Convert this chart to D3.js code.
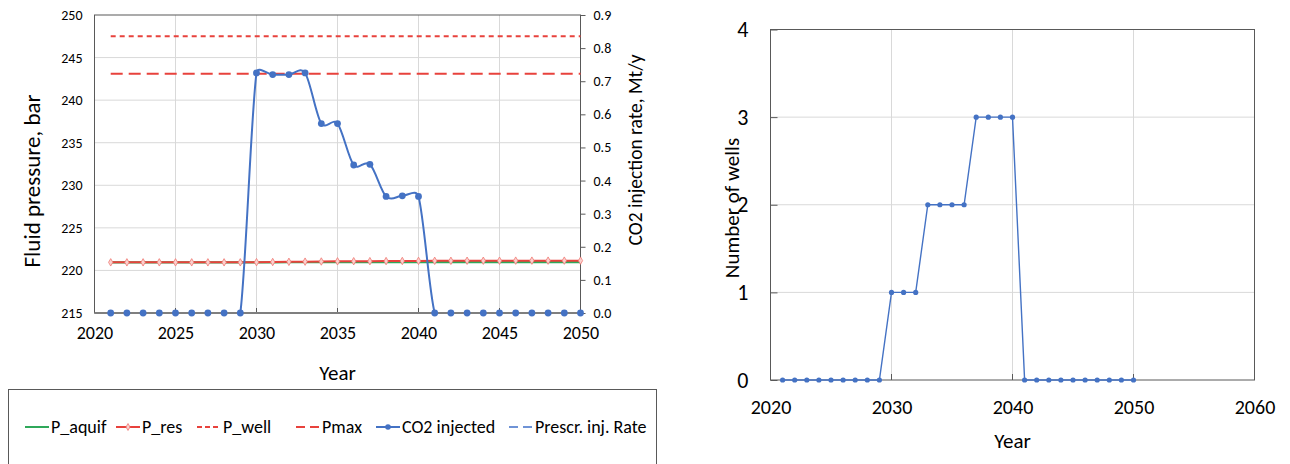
<!DOCTYPE html>
<html>
<head>
<meta charset="utf-8">
<script src="https://cdn.jsdelivr.net/npm/d3@7"></script>
<style>
  body { margin: 0; background: #fff; }
  svg text { font-family: Carlito, Calibri, Lato, "Open Sans", sans-serif; fill: #000; }
</style>
</head>
<body>
<svg id="chart"></svg>
<script>
// ---- data ----
const years = [2021, 2022, 2023, 2024, 2025, 2026, 2027, 2028, 2029, 2030,
               2031, 2032, 2033, 2034, 2035, 2036, 2037, 2038, 2039, 2040,
               2041, 2042, 2043, 2044, 2045, 2046, 2047, 2048, 2049, 2050];
const pAquif = [220.95, 220.95, 220.95, 220.95, 220.95, 220.95, 220.95, 220.95, 220.95, 220.95,
                220.95, 220.96, 220.96, 220.96, 220.96, 220.97, 220.97, 220.97, 220.97, 220.98,
                220.98, 220.98, 220.98, 220.98, 220.98, 220.98, 220.98, 220.98, 220.98, 220.98];
const pRes = [220.95, 220.95, 220.95, 220.95, 220.95, 220.95, 220.95, 220.95, 220.95, 220.97,
              220.99, 221.01, 221.03, 221.05, 221.07, 221.08, 221.09, 221.10, 221.11, 221.12,
              221.13, 221.13, 221.14, 221.14, 221.14, 221.15, 221.15, 221.15, 221.15, 221.15];
const co2Injected = [0, 0, 0, 0, 0, 0, 0, 0, 0, 0.725,
                     0.72, 0.72, 0.725, 0.572, 0.572, 0.447, 0.449, 0.352, 0.354, 0.352,
                     0, 0, 0, 0, 0, 0, 0, 0, 0, 0];
const pWellLevel = 247.5;
const pMaxLevel = 243.1;
const wells = [0, 0, 0, 0, 0, 0, 0, 0, 0, 1,
               1, 1, 2, 2, 2, 2, 3, 3, 3, 3,
               0, 0, 0, 0, 0, 0, 0, 0, 0, 0];

const pressureTicks = [215, 220, 225, 230, 235, 240, 245, 250];
const rateTicks = [0, 0.1, 0.2, 0.3, 0.4, 0.5, 0.6, 0.7, 0.8, 0.9];
const leftYearTicks = [2020, 2025, 2030, 2035, 2040, 2045, 2050];
const rightYearTicks = [2020, 2030, 2040, 2050, 2060];
const wellTicks = [0, 1, 2, 3, 4];
const legendNames = ["P_aquif", "P_res", "P_well", "Pmax", "CO2 injected", "Prescr. inj. Rate"];

const blue = "#4472c4", red = "#e8423c", green = "#2fa85a", grid = "#d9d9d9", frame = "#595959";

// spreadsheet-style smoothed line: bezier handles of 1/6 of the neighbour chord,
// but never longer than half of the segment itself
function smoothPath(pts) {
    const dist = (a, b) => Math.hypot(b[0] - a[0], b[1] - a[1]);
    let d = `M${pts[0][0]},${pts[0][1]}`;
    for (let i = 0; i < pts.length - 1; i++) {
        const p0 = pts[Math.max(i - 1, 0)], p1 = pts[i], p2 = pts[i + 1], p3 = pts[Math.min(i + 2, pts.length - 1)];
        const d12 = dist(p1, p2), d02 = dist(p0, p2), d13 = dist(p1, p3);
        const f1 = d02 / 6 < d12 / 2 ? 1 / 6 : d12 / (2 * d02);
        const f2 = d13 / 6 < d12 / 2 ? 1 / 6 : d12 / (2 * d13);
        const c1 = [p1[0] + (p2[0] - p0[0]) * f1, p1[1] + (p2[1] - p0[1]) * f1];
        const c2 = [p2[0] - (p3[0] - p1[0]) * f2, p2[1] - (p3[1] - p1[1]) * f2];
        d += `C${c1[0]},${c1[1]} ${c2[0]},${c2[1]} ${p2[0]},${p2[1]}`;
    }
    return d;
}

const svg = d3.select("#chart").attr("width", 1290).attr("height", 464);
svg.append("rect").attr("width", 1290).attr("height", 464).attr("fill", "#fff");

// ================= left chart =================
const x = d3.scaleLinear().domain([2020, 2050]).range([94.5, 580.5]);
const yP = d3.scaleLinear().domain([215, 250]).range([313, 15]);
const yR = d3.scaleLinear().domain([0, 0.9]).range([313, 15]);

const left = svg.append("g");

left.append("g").selectAll("line")
    .data(leftYearTicks.slice(1, -1))
    .enter().append("line")
    .attr("x1", d => x(d)).attr("x2", d => x(d))
    .attr("y1", yP.range()[1]).attr("y2", yP.range()[0])
    .attr("stroke", grid);
left.append("g").selectAll("line")
    .data(pressureTicks.slice(1, -1))
    .enter().append("line")
    .attr("x1", x.range()[0]).attr("x2", x.range()[1])
    .attr("y1", d => yP(d)).attr("y2", d => yP(d))
    .attr("stroke", grid);

// axes
const axL = left.append("g").attr("transform", `translate(${x.range()[0]},0)`)
    .call(d3.axisLeft(yP).tickValues(pressureTicks).tickSize(0).tickPadding(12));
const axR = left.append("g").attr("transform", `translate(${x.range()[1]},0)`)
    .call(d3.axisRight(yR).tickValues(rateTicks).tickSize(5).tickPadding(8).tickFormat(d3.format(".1f")));
const axB = left.append("g").attr("transform", `translate(0,${yP.range()[0]})`)
    .call(d3.axisBottom(x).tickValues(leftYearTicks).tickSize(0).tickPadding(13).tickFormat(d3.format("d")));
[axL, axR, axB].forEach(a => a.select(".domain").remove());
axL.selectAll("text").style("font-size", "14px").attr("fill", "#222");
axR.selectAll("text").style("font-size", "14px").attr("fill", "#222");
axR.selectAll("line").attr("stroke", frame);
axB.selectAll("text").style("font-size", "18px");

left.append("rect")
    .attr("x", x.range()[0]).attr("y", yP.range()[1])
    .attr("width", x.range()[1] - x.range()[0]).attr("height", yP.range()[0] - yP.range()[1])
    .attr("fill", "none").attr("stroke", frame);

// small major marks on the bottom axis
left.append("g").selectAll("line")
    .data(leftYearTicks.slice(1, -1))
    .enter().append("line")
    .attr("x1", d => x(d)).attr("x2", d => x(d))
    .attr("y1", yP.range()[0]).attr("y2", yP.range()[0] - 5)
    .attr("stroke", frame);

// clip keeps the smoothed line from dipping under the zero axis
svg.append("clipPath").attr("id", "clipL").append("rect")
    .attr("x", x.range()[0]).attr("y", yP.range()[1] - 2)
    .attr("width", x.range()[1] - x.range()[0] + 4).attr("height", yP.range()[0] - yP.range()[1] + 2.5);

const plotL = left.append("g").attr("clip-path", "url(#clipL)");

// P_well and Pmax levels
plotL.append("line")
    .attr("x1", x(years[0])).attr("x2", x(years[years.length - 1]))
    .attr("y1", yP(pWellLevel)).attr("y2", yP(pWellLevel))
    .attr("stroke", red).attr("stroke-width", 2).attr("stroke-dasharray", "5,4");
plotL.append("line")
    .attr("x1", x(years[0])).attr("x2", x(years[years.length - 1]))
    .attr("y1", yP(pMaxLevel)).attr("y2", yP(pMaxLevel))
    .attr("stroke", red).attr("stroke-width", 2).attr("stroke-dasharray", "12,6");

const lineP = d3.line().x((d, i) => x(years[i])).y(d => yP(d));
plotL.append("path").datum(pAquif)
    .attr("d", lineP).attr("fill", "none").attr("stroke", green).attr("stroke-width", 2.2);
plotL.append("path").datum(pRes)
    .attr("d", lineP).attr("fill", "none").attr("stroke", red).attr("stroke-width", 2);
plotL.append("g").selectAll("path")
    .data(pRes)
    .enter().append("path")
    .attr("d", d3.symbol(d3.symbolDiamond, 16))
    .attr("transform", (d, i) => `translate(${x(years[i])},${yP(d)})`)
    .attr("fill", "#fbd0ce").attr("stroke", "#f07a74").attr("stroke-width", 0.8);

// bottom axis line drawn over the level lines
left.append("line")
    .attr("x1", x.range()[0]).attr("x2", x.range()[1])
    .attr("y1", yP.range()[0]).attr("y2", yP.range()[0])
    .attr("stroke", "#7f7f7f").attr("stroke-width", 2);

// CO2 injected (smoothed line on the right axis)
const co2Pts = co2Injected.map((d, i) => [x(years[i]), yR(d)]);
plotL.append("path")
    .attr("d", smoothPath(co2Pts)).attr("fill", "none").attr("stroke", blue).attr("stroke-width", 2);
left.append("g").selectAll("circle")
    .data(co2Injected)
    .enter().append("circle")
    .attr("cx", (d, i) => x(years[i])).attr("cy", d => yR(d))
    .attr("r", 3.4).attr("fill", blue);

// titles
left.append("text")
    .attr("transform", `translate(40,181) rotate(-90)`)
    .attr("text-anchor", "middle").style("font-size", "23px")
    .text("Fluid pressure, bar");
left.append("text")
    .attr("transform", `translate(642,150) rotate(-90)`)
    .attr("text-anchor", "middle").style("font-size", "19.5px")
    .text("CO2 injection rate, Mt/y");
left.append("text")
    .attr("x", (x.range()[0] + x.range()[1]) / 2).attr("y", 380)
    .attr("text-anchor", "middle").style("font-size", "21px")
    .text("Year");

// legend
const legend = svg.append("g");
legend.append("rect")
    .attr("x", 8.5).attr("y", 389.5).attr("width", 648).attr("height", 100)
    .attr("fill", "#fff").attr("stroke", frame);
const legendX = [25, 116, 197, 296, 376, 509];
const legendStyle = [
    {color: green, dash: null, marker: null},
    {color: red, dash: null, marker: "diamond"},
    {color: red, dash: "5,3", marker: null},
    {color: red, dash: "9,5", marker: null},
    {color: blue, dash: null, marker: "circle"},
    {color: "#6f93d6", dash: "9,5", marker: null}
];
const ly = 427;
const item = legend.selectAll("g.item")
    .data(legendNames)
    .enter().append("g").attr("class", "item")
    .attr("transform", (d, i) => `translate(${legendX[i]},${ly})`);
item.append("line")
    .attr("x1", 0).attr("x2", 24).attr("y1", 0).attr("y2", 0)
    .attr("stroke", (d, i) => legendStyle[i].color).attr("stroke-width", 2)
    .attr("stroke-dasharray", (d, i) => legendStyle[i].dash);
item.filter((d, i) => legendStyle[i].marker === "diamond").append("path")
    .attr("d", d3.symbol(d3.symbolDiamond, 14)).attr("transform", "translate(12,0)")
    .attr("fill", "#fbd0ce").attr("stroke", "#f07a74").attr("stroke-width", 0.8);
item.filter((d, i) => legendStyle[i].marker === "circle").append("circle")
    .attr("cx", 12).attr("r", 2.8).attr("fill", blue);
item.append("text")
    .attr("x", 26).attr("dy", "0.35em").style("font-size", "18px")
    .text(d => d);

// ================= right chart =================
const x2 = d3.scaleLinear().domain([2020, 2060]).range([770.5, 1254.5]);
const y2 = d3.scaleLinear().domain([0, 4]).range([380, 29.5]);
const right = svg.append("g");

right.append("g").selectAll("line")
    .data(rightYearTicks.slice(1, -1))
    .enter().append("line")
    .attr("x1", d => x2(d)).attr("x2", d => x2(d))
    .attr("y1", y2.range()[1]).attr("y2", y2.range()[0])
    .attr("stroke", grid);
right.append("g").selectAll("line")
    .data(wellTicks.slice(1, -1))
    .enter().append("line")
    .attr("x1", x2.range()[0]).attr("x2", x2.range()[1])
    .attr("y1", d => y2(d)).attr("y2", d => y2(d))
    .attr("stroke", grid);

const ax2L = right.append("g").attr("transform", `translate(${x2.range()[0]},0)`)
    .call(d3.axisLeft(y2).tickValues(wellTicks).tickSize(-7).tickPadding(22).tickFormat(d3.format("d")));
const ax2B = right.append("g").attr("transform", `translate(0,${y2.range()[0]})`)
    .call(d3.axisBottom(x2).tickValues(rightYearTicks).tickSize(0).tickPadding(20).tickFormat(d3.format("d")));
[ax2L, ax2B].forEach(a => a.select(".domain").remove());
ax2L.selectAll("line").attr("stroke", frame);
ax2L.selectAll("text").style("font-size", "22px");
ax2B.selectAll("text").style("font-size", "20px");

right.append("rect")
    .attr("x", x2.range()[0]).attr("y", y2.range()[1])
    .attr("width", x2.range()[1] - x2.range()[0]).attr("height", y2.range()[0] - y2.range()[1])
    .attr("fill", "none").attr("stroke", frame);
right.append("g").selectAll("line")
    .data(rightYearTicks.slice(1, -1))
    .enter().append("line")
    .attr("x1", d => x2(d)).attr("x2", d => x2(d))
    .attr("y1", y2.range()[0]).attr("y2", y2.range()[0] - 6)
    .attr("stroke", frame);

const lineW = d3.line().x((d, i) => x2(years[i])).y(d => y2(d));
right.append("path").datum(wells)
    .attr("d", lineW).attr("fill", "none").attr("stroke", blue).attr("stroke-width", 1.4);
right.append("g").selectAll("circle")
    .data(wells)
    .enter().append("circle")
    .attr("cx", (d, i) => x2(years[i])).attr("cy", d => y2(d))
    .attr("r", 2.6).attr("fill", blue);

right.append("text")
    .attr("transform", `translate(739,208) rotate(-90)`)
    .attr("text-anchor", "middle").style("font-size", "21px")
    .text("Number of wells");
right.append("text")
    .attr("x", x2(2040)).attr("y", 448)
    .attr("text-anchor", "middle").style("font-size", "21px")
    .text("Year");
</script>
</body>
</html>
